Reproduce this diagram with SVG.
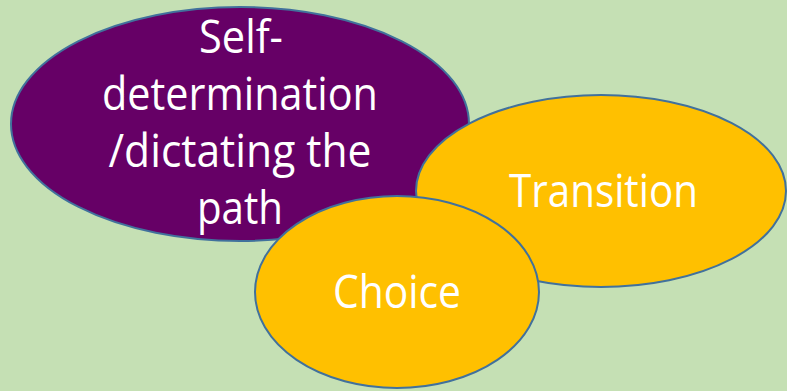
<svg xmlns="http://www.w3.org/2000/svg" width="787" height="391" viewBox="0 0 787 391">
<style>
.n{stroke:#41719c;stroke-width:2}
.t{font-family:"Open Sans","Liberation Sans",sans-serif;font-size:46px;fill:#ffffff;text-anchor:middle}
</style>
<rect width="787" height="391" fill="#c5e0b4"/>
<g id="connectors"/>
<g id="self-determination">
<ellipse class="n" cx="240" cy="124" rx="229" ry="117" fill="#660066"/>
<text class="t" x="241" y="53" textLength="84" lengthAdjust="spacingAndGlyphs">Self-</text>
<text class="t" x="240" y="110" textLength="276" lengthAdjust="spacingAndGlyphs">determination</text>
<text class="t" x="240" y="167" textLength="263" lengthAdjust="spacingAndGlyphs">/dictating the</text>
<text class="t" x="240" y="224" textLength="86" lengthAdjust="spacingAndGlyphs">path</text>
</g>
<g id="transition">
<ellipse class="n" cx="601" cy="191" rx="185" ry="96" fill="#ffc000"/>
<text class="t" x="603.5" y="207" textLength="189" lengthAdjust="spacingAndGlyphs">Transition</text>
</g>
<g id="choice">
<ellipse class="n" cx="397" cy="292" rx="142" ry="96" fill="#ffc000"/>
<text class="t" x="397" y="308" textLength="128" lengthAdjust="spacingAndGlyphs">Choice</text>
</g>
</svg>
